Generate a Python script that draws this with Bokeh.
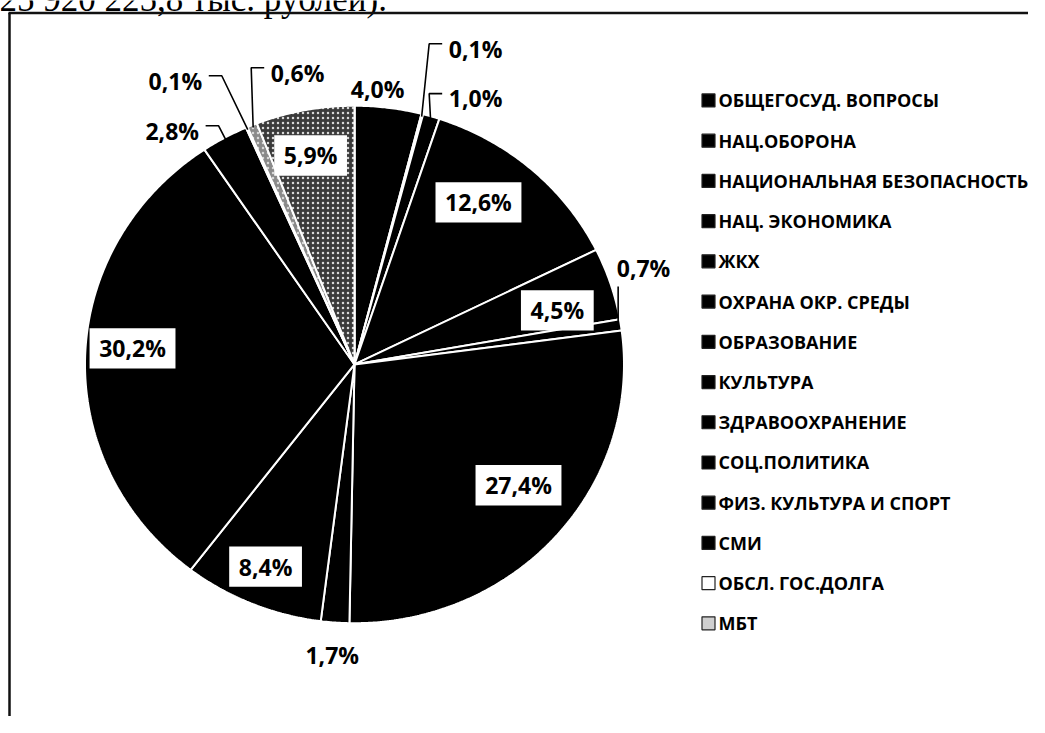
import math
from bokeh.plotting import figure
from bokeh.models import Range1d, ColumnDataSource
from bokeh.core.properties import value
from bokeh.embed import file_html
from bokeh.resources import INLINE

# ---------------- data ----------------
categories = [
    "ОБЩЕГОСУД. ВОПРОСЫ",
    "НАЦ.ОБОРОНА",
    "НАЦИОНАЛЬНАЯ БЕЗОПАСНОСТЬ",
    "НАЦ. ЭКОНОМИКА",
    "ЖКХ",
    "ОХРАНА ОКР. СРЕДЫ",
    "ОБРАЗОВАНИЕ",
    "КУЛЬТУРА",
    "ЗДРАВООХРАНЕНИЕ",
    "СОЦ.ПОЛИТИКА",
    "ФИЗ. КУЛЬТУРА И СПОРТ",
    "СМИ",
    "ОБСЛ. ГОС.ДОЛГА",
    "МБТ",
]
shares = [4.0, 0.1, 1.0, 12.6, 4.5, 0.7, 27.4, 1.7, 8.4, 30.2, 2.8, 0.1, 0.6, 5.9]
header_text = "25 920 225,8 тыс. рублей)."

# ---------------- layout / style ----------------
W, H = 1028, 716
YS, Y0 = 0.96, 3.0            # scanned page is slightly squashed vertically
CX, CY, R = 354, 376, 269.5   # pie centre / radius in layout units
LABEL_PX = 23

slice_fill = ["#000000"] * 12 + ["#8a8a8a", "#3a3a3a"]
legend_fill = ["#000000"] * 12 + ["#ffffff", "#cfcfcf"]

# label placement: (clock angle deg, radius factor, boxed, leader style)
label_layout = [
    (4.6, 1.070, False, None),
    (20.2, 1.301, False, "right"),
    (23.6, 1.122, False, "right"),
    (36.3, 0.777, True, None),
    (74.5, 0.781, True, None),
    (70.9, 1.135, False, "vert"),
    (127.5, 0.767, True, None),
    (184.2, 1.127, False, None),
    (202.9, 0.848, True, None),
    (274.3, 0.826, True, None),
    (323.2, 1.129, False, "left"),
    (328.8, 1.283, False, "left"),
    (349.4, 1.148, False, "right"),
    (348.6, 0.824, True, None),
]

def X(px):
    return px

def Y(py):
    return -py

p = figure(width=W, height=H, x_range=Range1d(0, W),
           y_range=Range1d(-(H - Y0) / YS, Y0 / YS),
           output_backend="svg", toolbar_location=None, min_border=0)
p.axis.visible = False
p.grid.visible = False
p.outline_line_color = None
p.background_fill_color = "white"
p.border_fill_color = "white"

# ---------------- frame and header ----------------
p.text(x=[X(-1)], y=[Y(-4.5)], text=[header_text], text_font=value("Liberation Serif"),
       text_font_size="35px", text_baseline="alphabetic", text_align="left", text_color="black")
p.segment(x0=[X(8)], y0=[Y(10)], x1=[X(W)], y1=[Y(10)], line_color="#111111", line_width=2.5)
p.segment(x0=[X(9)], y0=[Y(10)], x1=[X(9)], y1=[Y(760)], line_color="#111111", line_width=2.5)

# ---------------- pie (drawn as polygons so it follows the squashed scan) ----------------
total = sum(shares)
xs, ys, mids = [], [], []
cum = 0.0
for v in shares:
    a0 = cum / total * 360.0
    cum += v
    a1 = cum / total * 360.0
    mids.append((a0 + a1) / 2)
    n = max(2, int((a1 - a0) / 0.5) + 1)
    px = [X(CX)]
    py = [Y(CY)]
    for k in range(n + 1):
        t = math.radians(a0 + (a1 - a0) * k / n)
        px.append(X(CX + R * math.sin(t)))
        py.append(Y(CY - R * math.cos(t)))
    xs.append(px)
    ys.append(py)

src = ColumnDataSource(dict(xs=xs, ys=ys, fill=slice_fill))
p.patches(xs="xs", ys="ys", fill_color="fill", line_color="white", line_width=2, source=src)
for i in (12, 13):
    p.patch(x=xs[i], y=ys[i], fill_color=slice_fill[i], hatch_pattern=".", hatch_color="#d8d8d8",
            hatch_scale=5, hatch_weight=1.2, line_color="white", line_width=2)

# ---------------- labels ----------------
def fmt(v):
    return ("%.1f" % v).replace(".", ",") + "%"

labels = [fmt(v) for v in shares]
cw = {"%": 0.86, ",": 0.29}

def text_w(s):
    return sum(cw.get(ch, 0.572) for ch in s) * LABEL_PX

bx, by, bw, bt = [], [], [], []
ox_, oy_, ot = [], [], []
lxs, lys = [], []
for i, (ang, f, boxed, lead) in enumerate(label_layout):
    lx = CX + f * R * math.sin(math.radians(ang))
    ly = CY - f * R * math.cos(math.radians(ang))
    if boxed:
        bx.append(X(lx)); by.append(Y(ly)); bw.append(text_w(labels[i]) + 20); bt.append(labels[i])
    else:
        ox_.append(X(lx)); oy_.append(Y(ly)); ot.append(labels[i])
    if lead:
        m = math.radians(mids[i])
        rx = CX + 0.99 * R * math.sin(m)
        ry = CY - 0.99 * R * math.cos(m)
        hw = text_w(labels[i]) / 2
        if lead == "vert":
            pts = [(rx, ry), (rx, ly + 19)]
        elif lead == "right":
            pts = [(rx, ry), (lx - hw - 20, ly - 5), (lx - hw - 7, ly - 5)]
        else:
            pts = [(rx, ry), (lx + hw + 20, ly - 5), (lx + hw + 7, ly - 5)]
        lxs.append([X(a) for a, b in pts]); lys.append([Y(b) for a, b in pts])

p.multi_line(xs=lxs, ys=lys, line_color="black", line_width=1.6)
p.rect(x=bx, y=by, width=bw, height=42, fill_color="white", line_color=None)
p.text(x=bx, y=by, text=bt, text_align="center", text_baseline="middle",
       text_font=value("Open Sans"), text_font_style="bold", text_font_size="%dpx" % LABEL_PX,
       text_color="black")
p.text(x=ox_, y=oy_, text=ot, text_align="center", text_baseline="middle",
       text_font=value("Open Sans"), text_font_style="bold", text_font_size="%dpx" % LABEL_PX,
       text_color="black")

# ---------------- legend ----------------
ly0, ldy = 101, 41.9
leg_y = [Y(ly0 + i * ldy) for i in range(len(categories))]
p.scatter(x=[X(708)] * len(categories), y=leg_y, marker="square", size=13,
          fill_color=legend_fill, line_color="#222222", line_width=1.2)
p.text(x=[X(718)] * len(categories), y=leg_y, text=categories, text_baseline="middle",
       text_align="left", text_font=value("Open Sans"), text_font_style="bold",
       text_font_size="18px", text_color="black")

open("out.html", "w").write(file_html(p, INLINE))
